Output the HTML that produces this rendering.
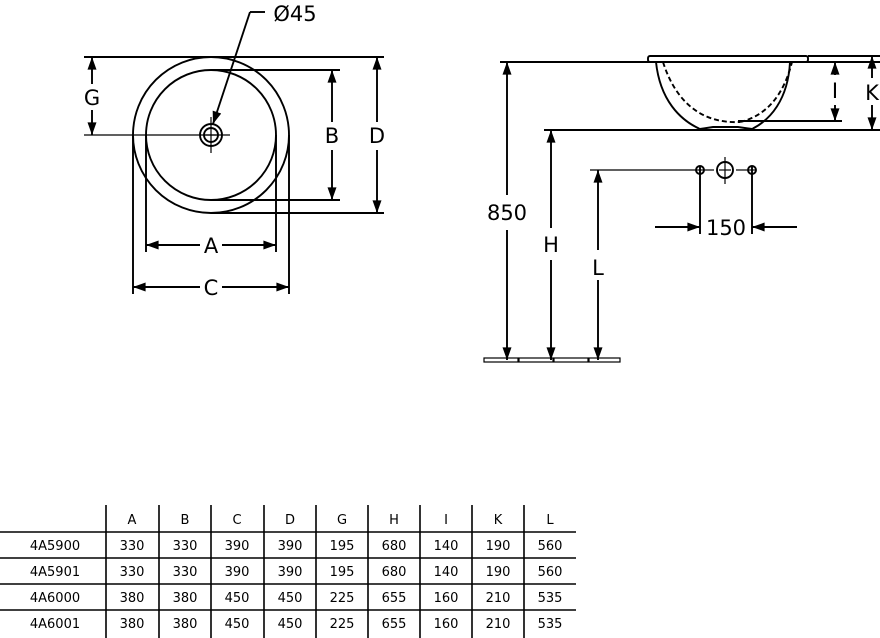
<!DOCTYPE html>
<html><head><style>body{margin:0;background:#fff}svg{display:block}text{font-family:"DejaVu Sans","Liberation Sans",sans-serif;fill:#000}</style></head>
<body>
<svg width="880" height="638" viewBox="0 0 880 638" xmlns="http://www.w3.org/2000/svg">
<defs>
<marker id="a" viewBox="0 0 14 10" refX="14" refY="5" markerWidth="14" markerHeight="9" orient="auto-start-reverse" markerUnits="userSpaceOnUse"><path d="M0,0 L14,5 L0,10z" fill="#000"/></marker>
</defs>
<g stroke="#000" stroke-width="1.9" fill="none">
<circle cx="211" cy="135" r="78"/>
<circle cx="211" cy="135" r="65"/>
<line x1="84" y1="57" x2="384" y2="57"/>
<line x1="211" y1="70" x2="340" y2="70"/>
<line x1="211" y1="200" x2="340" y2="200"/>
<line x1="211" y1="213" x2="384" y2="213"/>
<line x1="84" y1="135" x2="230" y2="135" stroke-width="1.2"/>
<circle cx="211" cy="135" r="11"/><circle cx="211" cy="135" r="7"/>
<line x1="211" y1="117" x2="211" y2="153" stroke-width="1.2"/>
<line x1="204" y1="135" x2="218" y2="135" stroke-width="1.2"/>
<polyline points="250,12 265,12" />
<line x1="250" y1="12" x2="213" y2="124" marker-end="url(#a)"/>
<line x1="92" y1="57" x2="92" y2="84" marker-start="url(#a)"/>
<line x1="92" y1="110" x2="92" y2="135" marker-end="url(#a)"/>
<line x1="332" y1="70" x2="332" y2="122" marker-start="url(#a)"/>
<line x1="332" y1="150" x2="332" y2="200" marker-end="url(#a)"/>
<line x1="377" y1="57" x2="377" y2="122" marker-start="url(#a)"/>
<line x1="377" y1="150" x2="377" y2="213" marker-end="url(#a)"/>
<line x1="146" y1="135" x2="146" y2="252"/><line x1="276" y1="135" x2="276" y2="252"/>
<line x1="133" y1="135" x2="133" y2="294"/><line x1="289" y1="135" x2="289" y2="294"/>
<line x1="146" y1="245" x2="200" y2="245" marker-start="url(#a)"/>
<line x1="222" y1="245" x2="276" y2="245" marker-end="url(#a)"/>
<line x1="133" y1="287" x2="200" y2="287" marker-start="url(#a)"/>
<line x1="222" y1="287" x2="289" y2="287" marker-end="url(#a)"/>

<line x1="500" y1="62" x2="880" y2="62"/>
<rect x="648" y="56" width="160" height="6" rx="2"/>
<line x1="808" y1="56" x2="880" y2="56"/>
<path d="M656,62 C660,100 680,120 700,129 M790,62 C788,100 770,120 752,129"/>
<path d="M663,62 C675,100 700,124 740,122 M740,122 C770,115 785,90 792,62" stroke-dasharray="5,3"/>
<path d="M700,129 L713,127 L738,127 L752,129"/>
<line x1="738" y1="121" x2="842" y2="121"/>
<line x1="544" y1="130" x2="880" y2="130"/>
<line x1="835" y1="62" x2="835" y2="75" marker-start="url(#a)"/>
<line x1="835" y1="105" x2="835" y2="121" marker-end="url(#a)"/>
<line x1="872" y1="56" x2="872" y2="78" marker-start="url(#a)"/>
<line x1="872" y1="105" x2="872" y2="130" marker-end="url(#a)"/>
<line x1="507" y1="62" x2="507" y2="195" marker-start="url(#a)"/>
<line x1="507" y1="230" x2="507" y2="360" marker-end="url(#a)"/>
<line x1="551" y1="130" x2="551" y2="228" marker-start="url(#a)"/>
<line x1="551" y1="260" x2="551" y2="360" marker-end="url(#a)"/>
<line x1="598" y1="170" x2="598" y2="250" marker-start="url(#a)"/>
<line x1="598" y1="280" x2="598" y2="360" marker-end="url(#a)"/>
<line x1="590" y1="170" x2="696" y2="170" stroke-width="1.2"/>
<line x1="704" y1="170" x2="714" y2="170" stroke-width="1.2"/>
<line x1="736" y1="170" x2="748" y2="170" stroke-width="1.2"/>
<circle cx="700" cy="170" r="4"/><circle cx="752" cy="170" r="4"/>
<line x1="696" y1="170" x2="704" y2="170" stroke-width="1.2"/><line x1="748" y1="170" x2="756" y2="170" stroke-width="1.2"/>
<circle cx="725" cy="170" r="8"/>
<line x1="725" y1="157" x2="725" y2="184" stroke-width="1.2"/><line x1="719" y1="170" x2="731" y2="170" stroke-width="1.2"/>
<line x1="700" y1="166" x2="700" y2="234"/><line x1="752" y1="166" x2="752" y2="234"/>
<line x1="655" y1="227" x2="700" y2="227" marker-end="url(#a)"/>
<line x1="797" y1="227" x2="752" y2="227" marker-end="url(#a)"/>
<rect x="484" y="358" width="34" height="4" stroke-width="1.2"/>
<rect x="519" y="358" width="34" height="4" stroke-width="1.2"/>
<rect x="554" y="358" width="34" height="4" stroke-width="1.2"/>
<rect x="589" y="358" width="31" height="4" stroke-width="1.2"/>
</g>
<g font-size="21" text-anchor="middle">
<text x="295" y="21">Ø45</text>
<text x="92" y="105">G</text>
<text x="332" y="143">B</text>
<text x="377" y="143">D</text>
<text x="211" y="253">A</text>
<text x="211" y="295">C</text>
<text x="835" y="98">I</text>
<text x="872" y="100">K</text>
<text x="507" y="220">850</text>
<text x="551" y="252">H</text>
<text x="598" y="275">L</text>
<text x="726" y="235">150</text>
</g>
<g stroke="#000" stroke-width="1.6">
<line x1="106" y1="505" x2="106" y2="638"/><line x1="159" y1="505" x2="159" y2="638"/>
<line x1="211" y1="505" x2="211" y2="638"/><line x1="264" y1="505" x2="264" y2="638"/>
<line x1="316" y1="505" x2="316" y2="638"/><line x1="368" y1="505" x2="368" y2="638"/>
<line x1="420" y1="505" x2="420" y2="638"/><line x1="472" y1="505" x2="472" y2="638"/>
<line x1="524" y1="505" x2="524" y2="638"/>
<line x1="0" y1="532" x2="576" y2="532"/><line x1="0" y1="558" x2="576" y2="558"/>
<line x1="0" y1="584" x2="576" y2="584"/><line x1="0" y1="610" x2="576" y2="610"/>
</g>
<g font-size="13" text-anchor="middle">
<text x="132" y="524">A</text><text x="185" y="524">B</text><text x="237" y="524">C</text><text x="290" y="524">D</text><text x="342" y="524">G</text><text x="394" y="524">H</text><text x="446" y="524">I</text><text x="498" y="524">K</text><text x="550" y="524">L</text>
<text x="55" y="550">4A5900</text><text x="132" y="550">330</text><text x="185" y="550">330</text><text x="237" y="550">390</text><text x="290" y="550">390</text><text x="342" y="550">195</text><text x="394" y="550">680</text><text x="446" y="550">140</text><text x="498" y="550">190</text><text x="550" y="550">560</text>
<text x="55" y="576">4A5901</text><text x="132" y="576">330</text><text x="185" y="576">330</text><text x="237" y="576">390</text><text x="290" y="576">390</text><text x="342" y="576">195</text><text x="394" y="576">680</text><text x="446" y="576">140</text><text x="498" y="576">190</text><text x="550" y="576">560</text>
<text x="55" y="602">4A6000</text><text x="132" y="602">380</text><text x="185" y="602">380</text><text x="237" y="602">450</text><text x="290" y="602">450</text><text x="342" y="602">225</text><text x="394" y="602">655</text><text x="446" y="602">160</text><text x="498" y="602">210</text><text x="550" y="602">535</text>
<text x="55" y="628">4A6001</text><text x="132" y="628">380</text><text x="185" y="628">380</text><text x="237" y="628">450</text><text x="290" y="628">450</text><text x="342" y="628">225</text><text x="394" y="628">655</text><text x="446" y="628">160</text><text x="498" y="628">210</text><text x="550" y="628">535</text>
</g>
</svg>
</body></html>
